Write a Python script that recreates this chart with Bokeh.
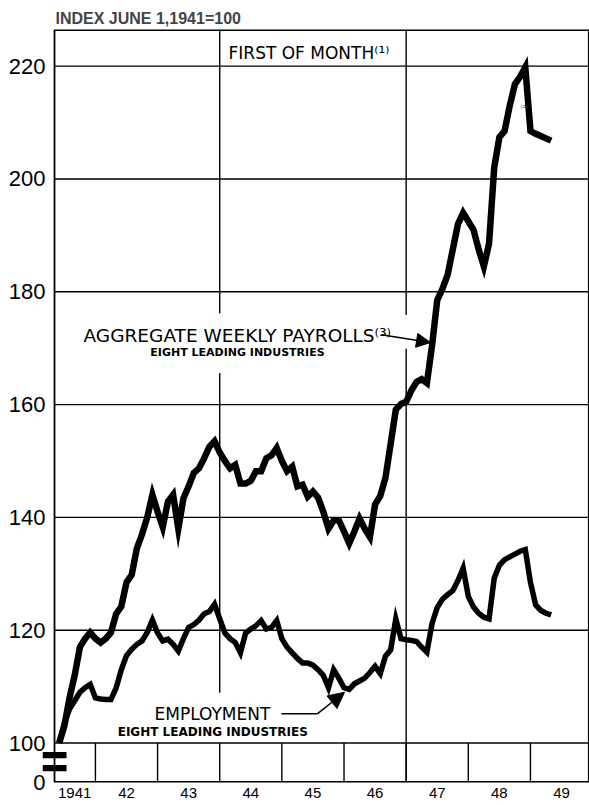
from bokeh.plotting import figure
from bokeh.models import Range1d, FixedTicker, Arrow, NormalHead
from bokeh.core.properties import value
from bokeh.embed import file_html
from bokeh.resources import INLINE

# Months counted from January 1941 (0 = Jan 1941); data start June 1, 1941
start_month = 5
payrolls = [100, 103, 108, 112, 117, 118.5, 119.6, 118.5, 117.8, 118.5,
            119.6, 122.9, 124.2, 128.5, 129.8, 134.5, 137, 140, 144, 141,
            138.3, 142.8, 144, 138, 143.4, 145.5, 147.9, 148.7, 150.5, 152.5,
            153.5, 151.5, 150, 148.7, 149.3, 146, 146, 146.5, 148.2, 148.2,
            150.5, 151, 152.3, 150, 148.2, 149, 145.5, 145.8, 143.7, 144.6,
            143.5, 141, 138, 139.5, 139.5, 137.5, 135.4, 137.5, 139.8, 138,
            136.5, 142.3, 143.8, 147, 153, 159.1, 160.1, 160.5, 162.5, 164,
            164.5, 163.8, 170.5, 178.5, 180.5, 183, 187.5, 192, 194, 192.5,
            191, 187.5, 184.5, 188.5, 202, 207.4, 208.5, 213, 216.8, 218.1,
            219.8, 208.5, 208, 207.6, 207.2, 206.8]
employment = [100, 103.5, 106, 107.5, 109, 109.8, 110.4, 108, 107.8, 107.7,
              107.7, 109.8, 113, 115.5, 116.6, 117.5, 118.1, 119.6, 121.8, 119.5,
              118.1, 118.4, 117.5, 116.3, 118.5, 120.5, 121, 121.8, 122.9, 123.3,
              124.6, 122, 119.5, 118.5, 117.8, 116, 119.5, 120.2, 120.8, 121.7,
              120.2, 120.5, 121.7, 118.5, 117, 116, 115, 114.2, 114.2, 113.8,
              113, 112, 109.8, 113, 111.5, 109.8, 109.5, 110.5, 111, 111.5,
              112.5, 113.6, 112.3, 115.4, 116.5, 122, 118.5, 118.3, 118.2, 118,
              117, 116.1, 121.2, 124, 125.5, 126.3, 127, 128.8, 131, 126,
              124.1, 123, 122.3, 122, 129.2, 131.5, 132.5, 133, 133.5, 134,
              134.3, 128.5, 124.5, 123.5, 123, 122.7]
months = list(range(start_month, start_month + len(payrolls)))

y_ticks = [93, 100, 120, 140, 160, 180, 200, 220]
y_labels = ["0", "100", "120", "140", "160", "180", "200", "220"]
year_ticks = [8, 18, 30, 42, 54, 66, 78, 90, 102]
year_labels = ["1941", "42", "43", "44", "45", "46", "47", "48", "49"]
year_bounds = [12, 24, 36, 48, 60, 72, 84, 96]

X0, X1 = 4.1, 107.4      # chart box (left edge = axis)
Y0, Y1 = 93, 226.5

p = figure(width=589, height=805, x_range=Range1d(1.78, X1), y_range=Range1d(Y0, Y1),
           output_backend="svg", toolbar_location=None,
           min_border_left=42, min_border_right=0, min_border_top=29, min_border_bottom=23)
p.background_fill_color = "white"
p.border_fill_color = "white"
p.outline_line_color = None

p.title.text = "INDEX JUNE 1,1941=100"
p.title.align = "left"
p.title.offset = 13
p.title.text_font = "Liberation Sans"
p.title.text_font_size = "16px"
p.title.text_font_style = "bold"
p.title.standoff = 5

p.xgrid.visible = False
p.ygrid.visible = False

yax = p.yaxis[0]
yax.ticker = FixedTicker(ticks=y_ticks)
yax.major_label_overrides = {t: l for t, l in zip(y_ticks, y_labels)}
yax.major_tick_out = 0
yax.major_tick_in = 0
yax.minor_tick_out = 0
yax.minor_tick_in = 0
yax.axis_line_color = None
yax.major_label_standoff = -3
yax.major_label_text_font = "Liberation Sans"
yax.major_label_text_font_size = "22px"
yax.major_label_text_color = "black"

xax = p.xaxis[0]
xax.ticker = FixedTicker(ticks=year_ticks)
xax.major_label_overrides = {t: l for t, l in zip(year_ticks, year_labels)}
xax.major_tick_out = 0
xax.major_tick_in = 0
xax.minor_tick_out = 0
xax.minor_tick_in = 0
xax.axis_line_color = None
xax.major_label_standoff = 5
xax.major_label_text_font = "Liberation Sans"
xax.major_label_text_font_size = "15px"
xax.major_label_text_color = "black"

grid_vals = y_ticks[1:]
# horizontal grid lines
p.segment(x0=[X0] * len(grid_vals), y0=grid_vals, x1=[X1] * len(grid_vals), y1=grid_vals,
          line_color="black", line_width=1.4)
# chart border (top/bottom/right lie on the frame edge, so drawn wider)
p.segment(x0=[X0], y0=[Y0], x1=[X0], y1=[Y1], line_color="black", line_width=1.8)
p.segment(x0=[X0, X0, X1], y0=[Y1, Y0, Y0], x1=[X1, X1, X1], y1=[Y1, Y0, Y1],
          line_color="black", line_width=3.2)

# year separators in the lower strip
p.segment(x0=year_bounds, y0=[Y0] * len(year_bounds), x1=year_bounds, y1=[100] * len(year_bounds),
          line_color="black", line_width=1.4)
# tall vertical grid lines (1944, 1947) with gaps for the labels
p.segment(x0=[36, 36, 72, 72], y0=[Y1, 165.6, Y1, 169.9],
          x1=[36, 36, 72, 72], y1=[176.2, 108.9, 175.9, Y0],
          line_color="black", line_width=1.4)

# broken-axis marks
p.quad(left=[1.78, 1.78], right=[6.42, 6.42], bottom=[97.3, 95.0], top=[98.4, 96.1],
       fill_color="black", line_color=None)

p.line(months, payrolls, line_color="black", line_width=6.5, line_join="miter")
p.line(months, employment, line_color="black", line_width=5.5, line_join="miter")

font = value("DejaVu Sans")
p.text(x=[37.7], y=[222.4], text=["FIRST OF MONTH\u207d\u00b9\u207e"], text_font=font,
       text_font_size="17px", text_baseline="middle", text_align="left", text_color="black")
p.text(x=[9.7], y=[172.3], text=["AGGREGATE WEEKLY PAYROLLS\u207d\u00b3\u207e"], text_font=font,
       text_font_size="18.5px", text_baseline="middle", text_align="left", text_color="black")
p.text(x=[22.6], y=[169.2], text=["EIGHT LEADING INDUSTRIES"], text_font=font,
       text_font_size="11px", text_font_style="bold", text_baseline="middle", text_align="left",
       text_color="black")
p.text(x=[23.4], y=[105.2], text=["EMPLOYMENT"], text_font=font,
       text_font_size="17px", text_baseline="middle", text_align="left", text_color="black")
p.text(x=[16.3], y=[101.9], text=["EIGHT LEADING INDUSTRIES"], text_font=font,
       text_font_size="12px", text_font_style="bold", text_baseline="middle", text_align="left",
       text_color="black")
p.text(x=[94.1], y=[212.5], text=["\u207d\u00b2\u207e"], text_font=font,
       text_font_size="8px", text_baseline="middle", text_align="left", text_color="#555555")

# pointers
p.add_layout(Arrow(x_start=67.2, y_start=172.4, x_end=76.7, y_end=171.0, line_width=1.5,
                   line_color="black",
                   end=NormalHead(size=14, fill_color="black", line_color="black")))
p.line([47.9, 54.9], [105.2, 105.2], line_color="black", line_width=1.5)
p.add_layout(Arrow(x_start=54.9, y_start=105.2, x_end=60.1, y_end=109.0, line_width=1.5,
                   line_color="black",
                   end=NormalHead(size=16, fill_color="black", line_color="black")))

open("out.html", "w").write(file_html(p, INLINE))
